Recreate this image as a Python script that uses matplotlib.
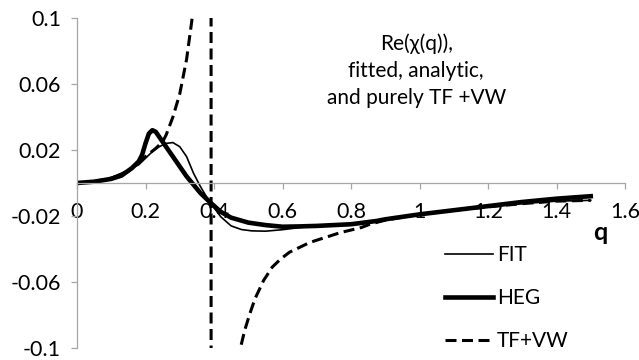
import matplotlib
matplotlib.use("Agg")
import matplotlib.pyplot as plt

plt.rcParams['font.family'] = ['Lato', 'DejaVu Sans']
plt.rcParams['axes.unicode_minus'] = False

# datos
q_fit = [0, 0.05, 0.1, 0.15, 0.18, 0.2, 0.22, 0.24, 0.26, 0.28, 0.30, 0.32, 0.34, 0.36, 0.38,
         0.40, 0.42, 0.45, 0.48, 0.51, 0.55, 0.6, 0.65, 0.7, 0.8, 0.9, 1.0, 1.1, 1.2, 1.3, 1.4, 1.5]
fit = [0, 0.0008, 0.003, 0.008, 0.011, 0.015, 0.019, 0.022, 0.024, 0.0245, 0.022, 0.016, 0.006,
       -0.002, -0.009, -0.015, -0.0205, -0.026, -0.0282, -0.029, -0.0292, -0.0283, -0.027, -0.026,
       -0.0245, -0.022, -0.019, -0.0165, -0.0145, -0.0125, -0.011, -0.0105]

q_heg = [0, 0.05, 0.1, 0.13, 0.16, 0.18, 0.19, 0.2, 0.21, 0.22, 0.23, 0.24, 0.26, 0.28, 0.30,
         0.32, 0.34, 0.36, 0.39, 0.42, 0.45, 0.5, 0.55, 0.6, 0.65, 0.7, 0.75, 0.8, 0.875, 0.9,
         0.95, 1.0, 1.1, 1.2, 1.3, 1.4, 1.5]
heg = [0, 0.0008, 0.0025, 0.0045, 0.009, 0.013, 0.017, 0.024, 0.030, 0.032, 0.031, 0.028, 0.022,
       0.016, 0.010, 0.004, -0.001, -0.006, -0.012, -0.0175, -0.021, -0.024, -0.0255, -0.0265,
       -0.0263, -0.026, -0.0255, -0.025, -0.023, -0.022, -0.0205, -0.019, -0.0165, -0.014,
       -0.0115, -0.0095, -0.008]

q_tf = [0, 0.05, 0.1, 0.15, 0.2, 0.23, 0.25, 0.26, 0.28, 0.30, 0.32, 0.335, 0.35, 0.37, 0.385,
        0.391, 0.392, 0.41, 0.44, 0.46, 0.476, 0.49, 0.505, 0.52, 0.545, 0.57, 0.595, 0.62, 0.65,
        0.68, 0.71, 0.74, 0.77, 0.8, 0.83, 0.855, 0.9, 1.0, 1.1, 1.2, 1.3, 1.4, 1.5]
tfvw = [0, 0.0008, 0.003, 0.007, 0.016, 0.021, 0.025, 0.029, 0.040, 0.054, 0.075, 0.098, 0.13,
        0.22, 0.5, 2.0, -2.0, -0.5, -0.2, -0.13, -0.101, -0.089, -0.079, -0.070, -0.059, -0.051,
        -0.046, -0.042, -0.039, -0.036, -0.034, -0.032, -0.030, -0.0285, -0.027, -0.025, -0.0225,
        -0.019, -0.0165, -0.0145, -0.0125, -0.011, -0.0105]

xticks = [0, 0.2, 0.4, 0.6, 0.8, 1.0, 1.2, 1.4, 1.6]
xticklabels = ["0", "0.2", "0.4", "0.6", "0.8", "1", "1.2", "1.4", "1.6"]
yticks = [-0.1, -0.06, -0.02, 0.02, 0.06, 0.1]
yticklabels = ["-0.1", "-0.06", "-0.02", "0.02", "0.06", "0.1"]

fig = plt.figure(figsize=(6.39, 3.6), dpi=100)
ax = fig.add_axes([77/639, 12/360, 548/639, 330/360])

ax.plot(q_fit, fit, color='black', linewidth=1.2, label='FIT')
ax.plot(q_heg, heg, color='black', linewidth=3.3, label='HEG')
ax.plot(q_tf, tfvw, color='black', linewidth=2.2, dashes=(3.6, 1.8), label='TF+VW')

ax.set_xlim(0, 1.6)
ax.set_ylim(-0.1, 0.1)

# ejes estilo Excel
for s in ['top', 'right']:
    ax.spines[s].set_visible(False)
ax.spines['bottom'].set_position(('data', 0))
ax.spines['bottom'].set_color('#a6a6a6')
ax.spines['left'].set_color('#a6a6a6')
ax.spines['bottom'].set_linewidth(0.9)
ax.spines['left'].set_linewidth(0.9)

ax.set_xticks(xticks)
ax.set_xticklabels(xticklabels)
ax.set_yticks(yticks)
ax.set_yticklabels(yticklabels)
ax.tick_params(axis='x', direction='out', length=4.5, width=0.9, color='#a6a6a6', pad=9, labelsize=15.5)
ax.tick_params(axis='y', direction='out', length=4.5, width=0.9, color='#a6a6a6', pad=7, labelsize=15.5)

ax.text(0.619, 0.84, "Re(χ(q)),\nfitted, analytic,\nand purely TF +VW", transform=ax.transAxes,
        ha='center', va='center', fontsize=15, linespacing=1.45)
ax.text(0.954, 0.35, "q", transform=ax.transAxes, ha='center', va='center',
        fontsize=18, fontweight='bold')

ax.legend(loc='upper left', bbox_to_anchor=(445/639, 1 - 245/360), bbox_transform=fig.transFigure,
          frameon=False, fontsize=15, handlelength=2.3, handletextpad=0.2, labelspacing=1.1,
          borderpad=0, borderaxespad=0)

fig.savefig("out.png", dpi=100)
